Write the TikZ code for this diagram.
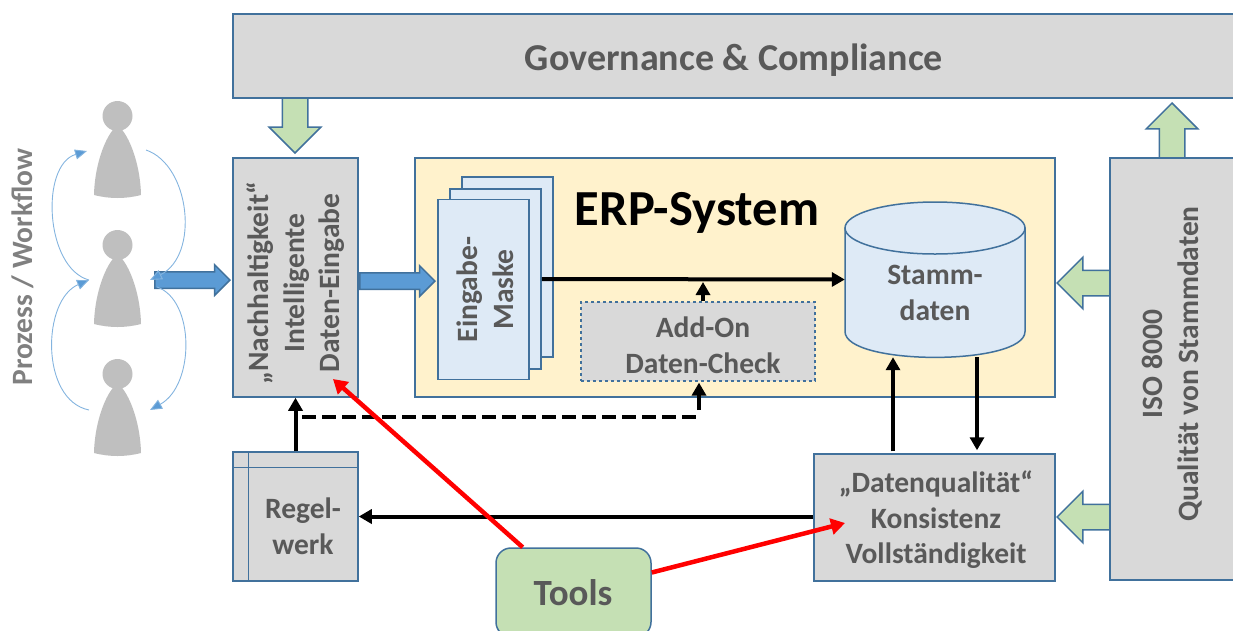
\documentclass[tikz,border=0pt]{standalone}
\usepackage{fontspec}
\setmainfont{Carlito}
\usetikzlibrary{arrows.meta,shapes.arrows}
\definecolor{frameblue}{HTML}{41719C}
\definecolor{boxgray}{HTML}{D9D9D9}
\definecolor{labelgray}{HTML}{595959}
\definecolor{erpyellow}{HTML}{FFF2CC}
\definecolor{maskblue}{HTML}{DEEAF6}
\definecolor{arrowgreen}{HTML}{C5E0B4}
\definecolor{arrowblue}{HTML}{5B9BD5}
\definecolor{pawngray}{HTML}{BFBFBF}
\begin{document}
\begin{tikzpicture}[x=1pt,y=-1pt]
      \tikzset{box/.style={draw=frameblue, line width=1.5pt, fill=boxgray, inner sep=0pt},
      	boxtext/.style={text=labelgray, align=center, inner sep=0pt, font=\fontsize{29.5}{35.5}\selectfont\bfseries},
      	greenarrow/.style={single arrow, anchor=tip, draw=frameblue, line width=1.5pt, fill=arrowgreen, inner sep=12pt, single arrow head extend=13pt, single arrow head indent=0pt},
      	bluearrow/.style={single arrow, anchor=tip, draw=frameblue, line width=1.5pt, fill=arrowblue, inner sep=7.5pt, single arrow head extend=7pt, single arrow head indent=0pt, minimum height=75pt},
      	blackline/.style={draw=black, line width=4pt, -{Triangle[length=13pt,width=14pt]}},
      	redline/.style={draw=red, line width=4.5pt, -{Triangle[length=14pt,width=16pt]}},
      	swing/.style={draw=arrowblue!75, line width=.9pt, -{Triangle[length=12pt,width=10pt,fill=arrowblue]}},
      	pawn/.pic={\fill[pawngray] (0,0) circle (15);
      		\fill[pawngray] (-3,12) .. controls (-14,24) and (-23,52) .. (-23.5,79) .. controls (-8,83) and (8,83) .. (23.5,79) .. controls (23,52) and (14,24) .. (3,12) -- cycle;}}
      \useasboundingbox (0,0) rectangle (1233,630);
%% Block arrows
      	\node[greenarrow, rotate=-90, minimum height=58pt] (govdown) at (295,154) {};
      	\node[greenarrow, rotate=90, minimum height=58pt] (isoup) at (1172,102) {};
      	\node[greenarrow, rotate=180, minimum height=56pt] (isoerp) at (1056,283) {};
      	\node[greenarrow, rotate=180, minimum height=56pt] (isoquali) at (1056,517) {};
%% Frames
      	\node[box, minimum width=1002.5pt, minimum height=84pt] (gov) at (734,56) {};
      	\node[boxtext, font=\fontsize{38}{40}\selectfont\bfseries] (govtext) at (734,60) {Governance \& Compliance};
      	\node[box, fill=erpyellow, minimum width=640pt, minimum height=239pt] (erp) at (735,277.5) {};
      	\node[box, minimum width=125pt, minimum height=239pt] (intel) at (295.5,277.5) {};
      	\node[boxtext, rotate=90] (inteltext) at (296,283) {„Nachhaltigkeit“\\Intelligente\\Daten-Eingabe};
      	\node[box, minimum width=125pt, minimum height=129pt] (regel) at (295.5,516.5) {};
      	\node[boxtext] (regeltext) at (303,526) {Regel-\\werk};
      	\node[box, minimum width=241pt, minimum height=127pt] (quali) at (934.5,517.5) {};
      	\node[boxtext] (qualitext) at (936,520) {„Datenqualität“\\Konsistenz\\Vollständigkeit};
      	\node[box, minimum width=130pt, minimum height=422pt] (iso) at (1175,369) {};
      	\node[boxtext, rotate=90] (isotext) at (1172,364) {ISO 8000\\Qualität von Stammdaten};
      	\node[box, rounded corners=15pt, fill=arrowgreen, minimum width=155pt, minimum height=89pt] (tools) at (573.5,592.5) {};
      	\node[boxtext, font=\fontsize{37}{40}\selectfont\bfseries] (toolstext) at (573,593) {Tools};
      	\draw[draw=frameblue, line width=1.2pt] ([xshift=16pt]regel.north west) -- ([xshift=16pt]regel.south west);
      	\draw[draw=frameblue, line width=1.2pt] ([yshift=-16pt]regel.north west) -- ([yshift=-16pt]regel.north east);
%% ERP content
      	\node[font=\fontsize{50.5}{54}\selectfont\bfseries] (erptitle) at (697,213) {ERP-System};
      	\node[box, fill=maskblue, minimum width=91pt, minimum height=180pt] (mask3) at (507.5,267) {};
      	\node[box, fill=maskblue, minimum width=91pt, minimum height=180pt] (mask2) at (495.5,279) {};
      	\node[box, fill=maskblue, minimum width=91pt, minimum height=180pt] (mask1) at (483.5,289.5) {};
      	\node[boxtext, rotate=90] (masktext) at (485,289.5) {Eingabe-\\Maske};
      	\node[box, dashed, line width=1.2pt, minimum width=234pt, minimum height=79pt] (addon) at (698,341.5) {};
      	\node[boxtext] (addontext) at (703,345) {Add-On\\Daten-Check};
      	\node[minimum width=180pt, minimum height=155pt, inner sep=0pt] (stamm) at (935,279.5) {};
      	\filldraw[draw=frameblue, line width=1.5pt, fill=maskblue] (845,228) -- (845,331.5) .. controls (845,366) and (1025,366) .. (1025,331.5) -- (1025,228) -- cycle;
      	\filldraw[draw=frameblue, line width=1.5pt, fill=maskblue] (935,228) ellipse [x radius=90, y radius=26];
      	\node[boxtext] (stammtext) at (935,293) {Stamm-\\daten};
      	\node[bluearrow] (flowin) at (231,280) {};
      	\node[bluearrow] (flowmask) at (436,281) {};
%% Pawns
      	\pic at (117.5,116) {pawn};
      	\pic at (117.5,245) {pawn};
      	\pic at (117.5,374) {pawn};
      	\node[rotate=90, text=gray, font=\fontsize{29.5}{32}\selectfont\bfseries] (flowtext) at (23,267) {Prozess / Workflow};
      	\coordinate (s1) at (89,280);
      	\coordinate (s2) at (87,151);
      	\coordinate (s3) at (146,150);
      	\coordinate (s4) at (150,280);
      	\coordinate (s5) at (89,410);
      	\coordinate (s6) at (157,287);
      	\coordinate (s7) at (150,410);
      	\draw[swing] (s1) .. controls (45,268) and (40,165) .. (s2);
      	\draw[swing] (s3) .. controls (190,165) and (200,255) .. (s4);
      	\draw[swing] (s5) .. controls (40,400) and (42,300) .. (s1);
      	\draw[swing] (s6) .. controls (195,300) and (195,385) .. (s7);
%Connectors
      	\coordinate (onmain) at (703,282);
      	\coordinate (dashend) at (699,417);
      	\coordinate (dashstart) at (302,417);
      	\coordinate (intelred) at (333,379);
      	\coordinate (qualired) at (845,523);
		\path (mask2.east) edge [blackline] (stamm.west);
		\path (addon.north -| onmain) edge [blackline] (onmain);
		\path (regel.north) edge [blackline] (intel.south);
		\draw[line width=4pt, dash pattern=on 14pt off 6pt] (dashstart) -- (dashend);
		\path ([yshift=7pt]dashend) edge [blackline, shorten >=1pt] (addon.south -| dashend);
		\path ([xshift=-41.5pt]quali.north) edge [blackline, shorten <=2pt] ([xshift=-42pt]stamm.south);
		\path ([xshift=42pt]stamm.south) edge [blackline, shorten >=3pt] (quali.north -| 977,0);
		\path (quali.west |- regel.east) edge [blackline] (regel.east);
		\path (tools) edge [redline] (intelred);
		\path (tools) edge [redline] (qualired);
	\end{tikzpicture}
\end{document}
